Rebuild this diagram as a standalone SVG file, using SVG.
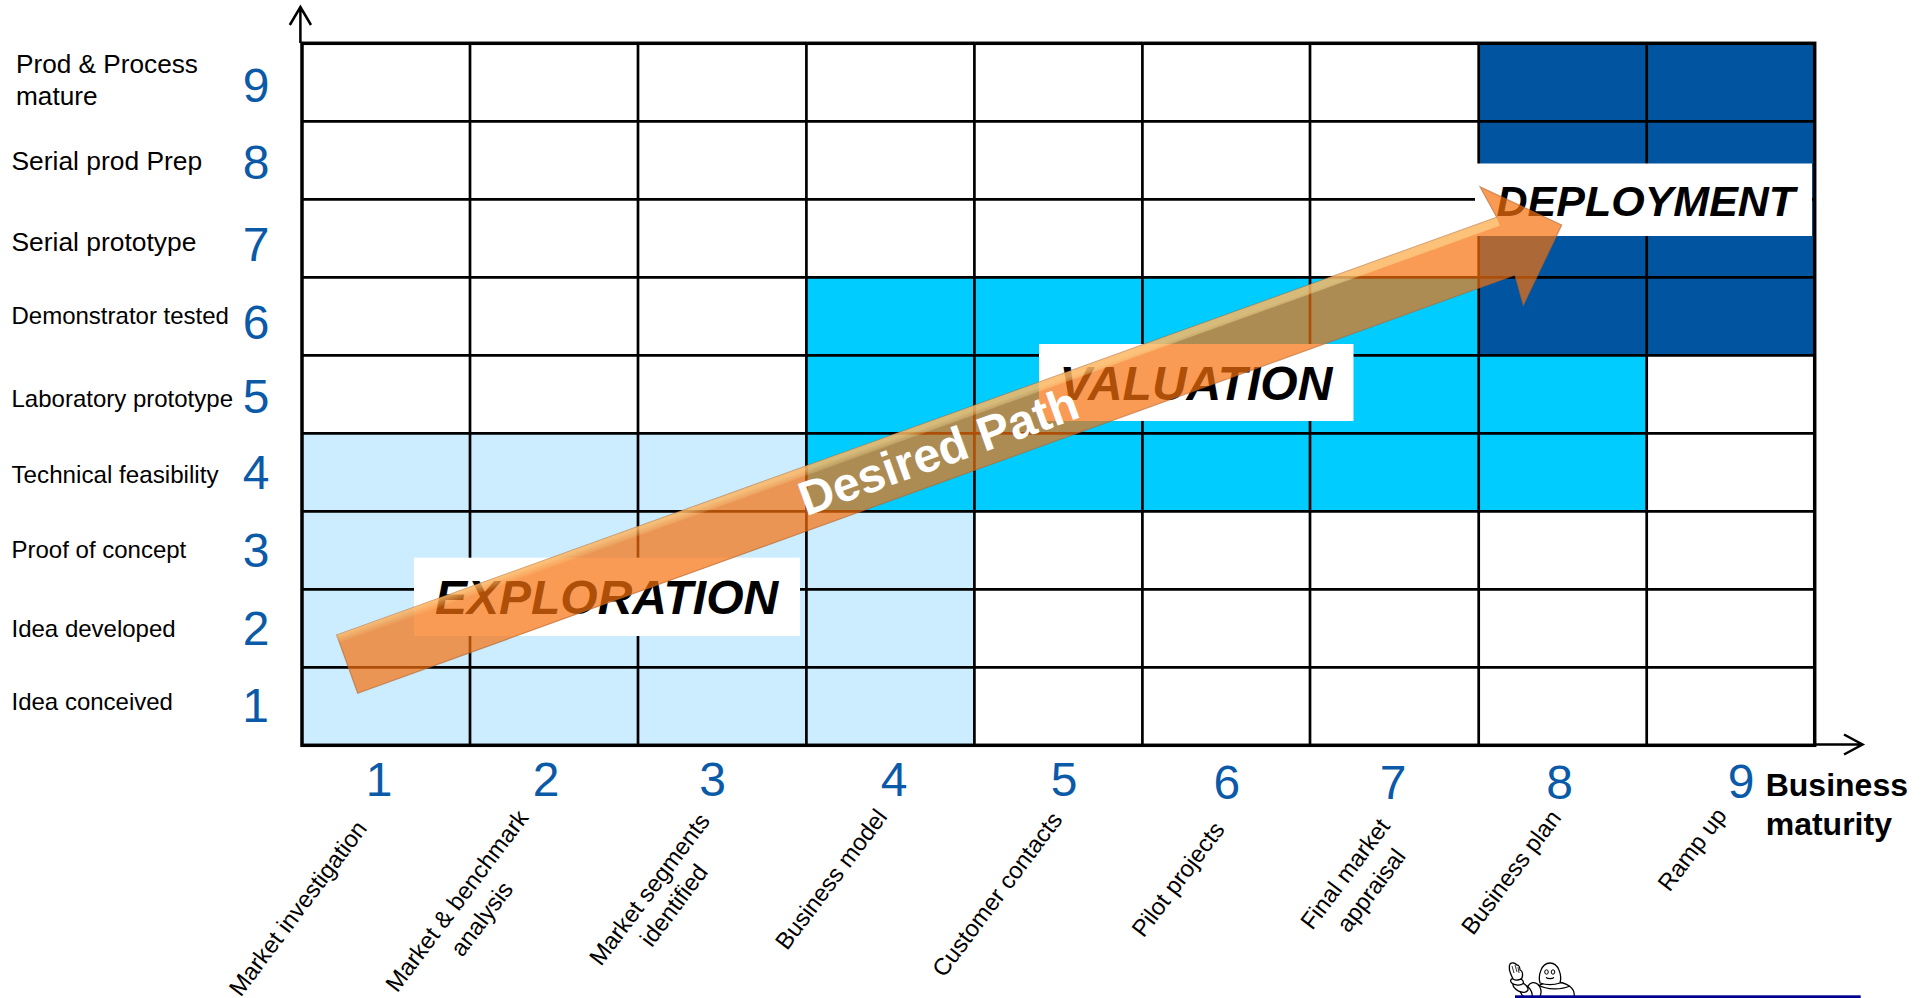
<svg xmlns="http://www.w3.org/2000/svg" width="1928" height="998" viewBox="0 0 1928 998">
<style>
text{font-family:"Liberation Sans",Arial,sans-serif;fill:#000}
.num{font-size:48px;fill:#0B5AA8;text-anchor:middle}
.lab{font-size:24px}
.rot{font-size:23.8px;text-anchor:middle}
.big{font-size:48px;font-weight:bold;font-style:italic}
.grid{stroke:#000;stroke-width:2.7;fill:none}
.frame{stroke:#000;stroke-width:3.5;fill:none}
.axis{stroke:#000;stroke-width:2.5;fill:none}
.bib{fill:#fff;stroke:#000;stroke-width:1.3}
</style>
<defs>
<linearGradient id="bevel" gradientUnits="userSpaceOnUse" x1="0" y1="0" x2="3" y2="8.500">
<stop offset="0" stop-color="#ffe9a0" stop-opacity=".5"/>
<stop offset="1" stop-color="#ffe9a0" stop-opacity="0"/>
</linearGradient>
</defs>
<rect width="1928" height="998" fill="#fff"/>
<g id="zones">
<path id="zone-exploration" fill="#CCECFF" d="M302 433.300H806V511.300H974.500V745.300H302Z"/>
<path id="zone-valuation" fill="#00CCFF" d="M806 277.300H1478.700V355.300H1646.700V511.300H806Z"/>
<rect id="zone-deployment" fill="#0054A0" x="1478.700" y="43" width="336" height="312.300"/>
</g>
<g id="grid" class="grid">
<path d="M302 121.300H1815M302 199.300H1815M302 277.300H1815M302 355.300H1815M302 433.300H1815M302 511.300H1815M302 589.300H1815M302 667.300H1815"/>
<path d="M470 43V745M638 43V745M806.400 43V745M974.400 43V745M1142.400 43V745M1310 43V745M1478.700 43V745M1646.700 43V745"/>
</g>
<g id="frame" class="frame">
<rect x="302" y="43.300" width="1512.700" height="702"/>
</g>
<g id="connectors" class="axis">
<path id="axis-y" d="M300.400 43V8M289.800 25L300.400 7L311 25"/>
<path id="axis-x" d="M1814 744.500H1862M1844 734.500L1862.500 744.500L1844 754.500"/>
</g>
<g id="phase-boxes">
<g id="exploration"><rect x="414" y="557.700" width="386" height="78.300" fill="#fff"/><text class="big" x="435" y="614">EXPLORATION</text></g>
<g id="valuation"><rect x="1039" y="344" width="314.500" height="77" fill="#fff"/><text class="big" x="1059.500" y="400">VALUATION</text></g>
<g id="deployment"><rect x="1475" y="163.500" width="337" height="72.500" fill="#fff"/><text class="big" style="font-size:43px" x="1496.500" y="216">DEPLOYMENT</text></g>
</g>
<g id="desired-path">
<path d="M336.700 635L1496.700 217.300L1480 186.700L1561.700 225L1523.300 305L1515 275L357.700 693.300Z" fill="#F7700C" fill-opacity=".7" stroke="#B4642D" stroke-opacity=".6" stroke-width="1.200"/>
<g transform="translate(336.700 635)"><path d="M0 0L1160 -417.700L1163 -409.200L3 8.500Z" fill="url(#bevel)"/></g>
<text transform="translate(944 466.500) rotate(-19.800)" text-anchor="middle" style="font-size:48px;font-weight:bold;fill:#fff">Desired Path</text>
</g>
<g id="y-labels">
<text class="lab" style="font-size:26.200px" x="16" y="73">Prod &amp; Process</text>
<text class="lab" style="font-size:26.200px" x="16" y="105">mature</text>
<text class="lab" style="font-size:26.400px" x="11.500" y="170">Serial prod Prep</text>
<text class="lab" style="font-size:26.400px" x="11.500" y="251">Serial prototype</text>
<text class="lab" x="11.500" y="324">Demonstrator tested</text>
<text class="lab" x="11.500" y="407">Laboratory prototype</text>
<text class="lab" style="font-size:24.200px" x="11.500" y="482.700">Technical feasibility</text>
<text class="lab" x="11.500" y="558">Proof of concept</text>
<text class="lab" x="11.500" y="636.700">Idea developed</text>
<text class="lab" x="11.500" y="709.500">Idea conceived</text>
</g>
<g id="y-numbers">
<text class="num" x="256" y="101.500">9</text>
<text class="num" x="256" y="179">8</text>
<text class="num" x="256" y="261">7</text>
<text class="num" x="256" y="339">6</text>
<text class="num" x="256" y="412.500">5</text>
<text class="num" x="256" y="488.500">4</text>
<text class="num" x="256" y="566.500">3</text>
<text class="num" x="256" y="644.500">2</text>
<text class="num" x="255.500" y="722">1</text>
</g>
<g id="x-numbers">
<text class="num" x="379" y="796">1</text>
<text class="num" x="546" y="796">2</text>
<text class="num" x="712.600" y="796">3</text>
<text class="num" x="894" y="796">4</text>
<text class="num" x="1064" y="796">5</text>
<text class="num" x="1226.800" y="798.700">6</text>
<text class="num" x="1393" y="798.700">7</text>
<text class="num" x="1559.500" y="799">8</text>
<text class="num" x="1741" y="798">9</text>
</g>
<g id="x-labels">
<text class="rot" transform="translate(298.800 909) rotate(-53)" y="7">Market investigation</text>
<text class="rot" transform="translate(457.700 901.500) rotate(-53)" y="7">Market &amp; benchmark</text>
<text class="rot" transform="translate(482.600 919.500) rotate(-53)" y="7">analysis</text>
<text class="rot" transform="translate(650.400 890) rotate(-53)" y="7">Market segments</text>
<text class="rot" transform="translate(674.700 906) rotate(-53)" y="7">identified</text>
<text class="rot" transform="translate(832 880) rotate(-53)" y="7">Business model</text>
<text class="rot" transform="translate(998 895) rotate(-53)" y="7">Customer contacts</text>
<text class="rot" transform="translate(1179 880) rotate(-53)" y="7">Pilot projects</text>
<text class="rot" transform="translate(1346 874.500) rotate(-53)" y="7">Final market</text>
<text class="rot" transform="translate(1372 891) rotate(-53)" y="7">appraisal</text>
<text class="rot" transform="translate(1512 873) rotate(-53)" y="7">Business plan</text>
<text class="rot" transform="translate(1693 850) rotate(-53)" y="7">Ramp up</text>
</g>
<g id="axis-title" style="font-size:32px;font-weight:bold">
<text x="1765.700" y="796">Business</text>
<text x="1765.700" y="834.500">maturity</text>
</g>
<g id="logo">
<path class="bib" d="M1533 998C1531 988 1541 982 1554 982C1567 982 1576 988 1574 998Z"/>
<ellipse class="bib" cx="1534" cy="991" rx="7" ry="8.500" transform="rotate(-10 1534 991)"/>
<ellipse class="bib" cx="1526" cy="992" rx="8" ry="5" transform="rotate(55 1526 992)"/>
<ellipse class="bib" cx="1520.500" cy="987" rx="8" ry="4.500" transform="rotate(25 1520.500 987)"/>
<ellipse class="bib" cx="1517" cy="981.500" rx="6.500" ry="3.500" transform="rotate(10 1517 981.500)"/>
<path class="bib" d="M1513 979C1510 973 1508 967 1510 964C1512 962 1515 963 1517 965C1519 965 1520 968 1520 970C1523 971 1523 975 1522 978C1520 980 1516 981 1513 979Z"/>
<path d="M1512 966l2 7M1515 965l2 7M1518 967l1 6" stroke="#000" stroke-width=".8" fill="none"/>
<path class="bib" d="M1540 983C1538 976 1541 963 1550 963C1559 963 1562 976 1560 983C1554 985 1546 985 1540 983Z"/>
<ellipse cx="1546.500" cy="972" rx="1.800" ry="2.200" fill="#fff" stroke="#000" stroke-width="1"/>
<ellipse cx="1553" cy="972" rx="1.800" ry="2.200" fill="#fff" stroke="#000" stroke-width="1"/>
<path d="M1546 977.500c2 1.500 6 1.500 8 0" stroke="#000" stroke-width="1.200" fill="none"/>
<path class="bib" style="fill:none" d="M1538 985C1547 990 1561 990 1570 986"/>
<rect x="1515" y="995.300" width="345.700" height="2.700" fill="#000090"/>
</g>
</svg>
